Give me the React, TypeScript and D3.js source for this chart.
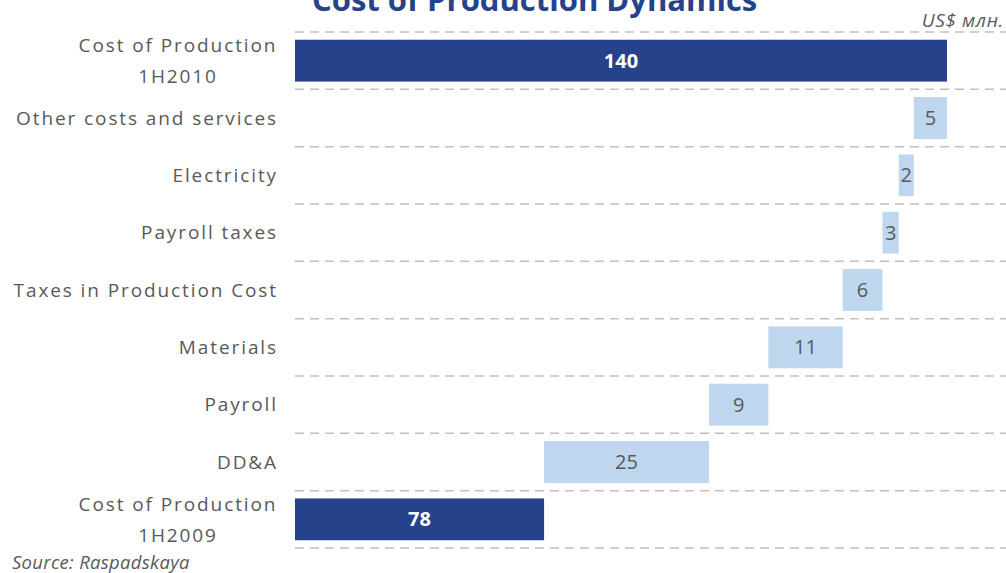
import React from 'react'
import * as d3 from 'd3'

const width = 1006
const height = 573

// top to bottom, as in the picture
const categories = [
  'Cost of Production|1H2010',
  'Other costs and services',
  'Electricity',
  'Payroll taxes',
  'Taxes in Production Cost',
  'Materials',
  'Payroll',
  'DD&A',
  'Cost of Production|1H2009',
]

// waterfall, bottom up: start, deltas, end
const startValue = 78.2
const endValue = 140
const deltaNames = [
  'DD&A',
  'Payroll',
  'Materials',
  'Taxes in Production Cost',
  'Payroll taxes',
  'Electricity',
  'Other costs and services',
]
const deltaValues = [25.3, 9.1, 11.4, 6.1, 2.5, 2.3, 5.1]

const axisMin = 40
const axisMax = 140

const dark = '#25428a'
const light = '#bfd7ee'
const grey = '#595959'
const font = "'Open Sans', sans-serif"

const App = () => {
  const x = d3.scaleLinear().domain([axisMin, axisMax]).range([295, 947])
  const y = d3
    .scaleBand()
    .domain(categories)
    .range([32, 548])
    .paddingInner(0.27)
    .paddingOuter(0.135)
  const fmt = d3.format('.0f')

  let acc = startValue
  const bars = [
    { cat: categories[8], x0: axisMin, x1: startValue, value: startValue, total: true },
  ]
  deltaNames.forEach((name, i) => {
    const cat = categories.find(c => c === name)
    bars.push({ cat, x0: acc, x1: acc + deltaValues[i], value: deltaValues[i], total: false })
    acc += deltaValues[i]
  })
  bars.push({ cat: categories[0], x0: axisMin, x1: endValue, value: endValue, total: true })

  const step = y.step()
  const gridYs = d3.range(categories.length + 1).map(i => 32 + i * step)

  return (
    <svg
      width={width}
      height={height}
      style={{ position: 'fixed', left: 0, top: 0, background: '#fff' }}
    >
      <text x={312} y={11} fill={dark} fontFamily={font} fontWeight="bold" fontSize={31}>
        Cost of Production Dynamics
      </text>
      <text x={1004} y={27} textAnchor="end" fill={grey} fontFamily={font} fontStyle="italic"
        fontSize={19} letterSpacing={0.6}>
        US$ млн.
      </text>

      {gridYs.map((gy, i) => (
        <line
          key={i}
          x1={295}
          x2={width}
          y1={gy}
          y2={gy}
          stroke="#c0c0c0"
          strokeWidth={1.5}
          strokeDasharray="9,6"
        />
      ))}

      {categories.map(c => {
        const lines = c.split('|')
        const cy = y(c) + y.bandwidth() / 2
        if (lines.length === 1) {
          return (
            <text key={c} x={278} y={cy} dy="0.35em" textAnchor="end" fill={grey}
              fontFamily={font} fontSize={19} letterSpacing={1.9}>
              {c}
            </text>
          )
        }
        return (
          <text key={c} x={178} y={cy} textAnchor="middle" fill={grey}
            fontFamily={font} fontSize={19} letterSpacing={1.9}>
            <tspan x={178} dy="-0.45em">{lines[0]}</tspan>
            <tspan x={178} dy="1.65em">{lines[1]}</tspan>
          </text>
        )
      })}

      {bars.map((d, i) => (
        <g key={i}>
          <rect
            x={x(d.x0)}
            y={y(d.cat)}
            width={x(d.x1) - x(d.x0)}
            height={y.bandwidth()}
            fill={d.total ? dark : light}
          />
          <text
            x={(x(d.x0) + x(d.x1)) / 2}
            y={y(d.cat) + y.bandwidth() / 2}
            dy="0.35em"
            textAnchor="middle"
            fill={d.total ? '#fff' : grey}
            fontFamily={font}
            fontWeight={d.total ? 'bold' : 'normal'}
            fontSize={20}
          >
            {fmt(d.value)}
          </text>
        </g>
      ))}

      <text x={12} y={569} fill={grey} fontFamily={font} fontStyle="italic" fontSize={18.5}
        letterSpacing={0.3}>
        Source: Raspadskaya
      </text>
    </svg>
  )
}

export default App
